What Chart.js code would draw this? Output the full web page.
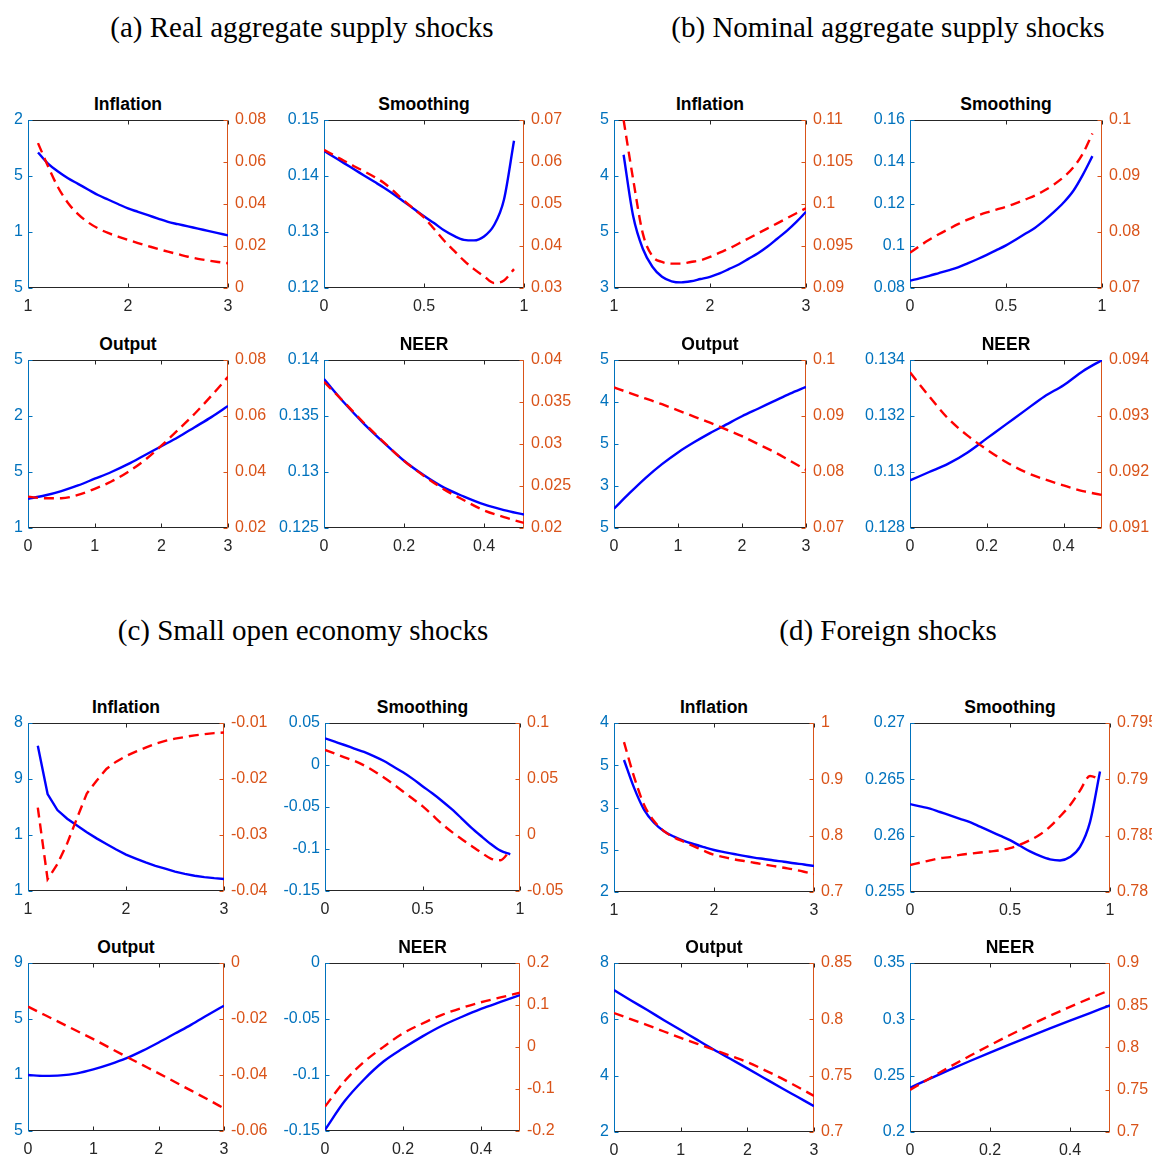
<!DOCTYPE html>
<html><head><meta charset="utf-8">
<script src="https://cdn.jsdelivr.net/npm/chart.js@4.4.1/dist/chart.umd.min.js"></script>
<style>
html,body{margin:0;padding:0;background:#fff;overflow:hidden;}
#page{position:relative;width:1152px;height:1155px;background:#fff;overflow:hidden;}
.sec{position:absolute;font-family:"Liberation Serif","Times New Roman",serif;font-size:29px;line-height:34px;text-align:center;color:#000;white-space:nowrap;}
.ttl{position:absolute;font-family:"Liberation Sans",Arial,sans-serif;font-weight:bold;font-size:17.5px;line-height:20px;text-align:center;color:#000;white-space:nowrap;}
.pnl{position:absolute;}
</style></head><body><div id="page"></div>
<script>
// ---------------- DATA ----------------
const sectionTitles = ['(a) Real aggregate supply shocks','(b) Nominal aggregate supply shocks','(c) Small open economy shocks','(d) Foreign shocks'];
const panelTitles = ['Inflation','Smoothing','Output','NEER'];

// x sample grids
const xInfl   = [1.1,1.2,1.3,1.4,1.5,1.6,1.7,1.8,1.9,2.0,2.1,2.2,2.3,2.4,2.5,2.6,2.7,2.8,2.9,3.0];
const xSmooth = [0,0.05,0.1,0.15,0.2,0.25,0.3,0.35,0.4,0.45,0.5,0.55,0.6,0.65,0.7,0.75,0.8,0.85,0.9,0.95];
const xOut    = [0,0.25,0.5,0.75,1,1.25,1.5,1.75,2,2.25,2.5,2.75,3];
const xNeer   = [0,0.05,0.1,0.15,0.2,0.25,0.3,0.35,0.4,0.45,0.5];

// x tick sets
const xTicks_1to3 = [1,2,3];        const xLabels_1to3 = ['1','2','3'];
const xTicks_0to1 = [0,0.5,1];      const xLabels_0to1 = ['0','0.5','1'];
const xTicks_0to3 = [0,1,2,3];      const xLabels_0to3 = ['0','1','2','3'];
const xTicks_neer = [0,0.2,0.4];    const xLabels_neer = ['0','0.2','0.4'];
const xRange_1to3 = [1,3]; const xRange_0to1 = [0,1]; const xRange_0to3 = [0,3]; const xRange_neer = [0,0.5];

// (a) Real aggregate supply shocks
const a1_blue = [0.0171,0.0161,0.0154,0.0148,0.0143,0.0138,0.0133,0.0129,0.0125,0.0121,0.0118,0.0115,0.0112,0.0109,0.0107,0.0105,0.0103,0.0101,0.0099,0.0097];
const a1_red  = [0.0690,0.0580,0.0480,0.0405,0.0352,0.0313,0.0284,0.0262,0.0245,0.0229,0.0214,0.0200,0.0186,0.0173,0.0161,0.0149,0.0139,0.0131,0.0124,0.0118];
const a1_lTicks = [0.005,0.01,0.015,0.02]; const a1_lLabels = ['5','1','5','2'];
const a1_rTicks = [0,0.02,0.04,0.06,0.08]; const a1_rLabels = ['0','0.02','0.04','0.06','0.08'];

const a2_blue = [0.1445,0.1434,0.1423,0.1412,0.1401,0.1390,0.1379,0.1367,0.1354,0.1341,0.1328,0.1316,0.1303,0.1293,0.1286,0.1285,0.1292,0.1312,0.1358,0.1463];
const a2_red  = [0.0629,0.0616,0.0603,0.0590,0.0578,0.0565,0.0550,0.0530,0.0508,0.0488,0.0468,0.0441,0.0413,0.0389,0.0365,0.0345,0.0328,0.0312,0.0318,0.0345];
const a2_lTicks = [0.12,0.13,0.14,0.15]; const a2_lLabels = ['0.12','0.13','0.14','0.15'];
const a2_rTicks = [0.03,0.04,0.05,0.06,0.07]; const a2_rLabels = ['0.03','0.04','0.05','0.06','0.07'];

const a3_blue = [0.0126,0.0129,0.0133,0.0138,0.0144,0.0150,0.0157,0.0165,0.0173,0.0181,0.0190,0.0199,0.0209];
const a3_red  = [0.0312,0.0306,0.0306,0.0318,0.0340,0.0366,0.0400,0.0442,0.0494,0.0550,0.0608,0.0672,0.0740];
const a3_lTicks = [0.01,0.015,0.02,0.025]; const a3_lLabels = ['1','5','2','5'];
const a3_rTicks = [0.02,0.04,0.06,0.08]; const a3_rLabels = ['0.02','0.04','0.06','0.08'];

const a4_blue = [0.1383,0.1362,0.1343,0.1326,0.1310,0.1297,0.1286,0.1278,0.1271,0.1266,0.1262];
const a4_red  = [0.0374,0.0350,0.0325,0.0302,0.0280,0.0262,0.0246,0.0233,0.0221,0.0213,0.0206];
const a4_lTicks = [0.125,0.13,0.135,0.14]; const a4_lLabels = ['0.125','0.13','0.135','0.14'];
const a4_rTicks = [0.02,0.025,0.03,0.035,0.04]; const a4_rLabels = ['0.02','0.025','0.03','0.035','0.04'];

// (b) Nominal aggregate supply shocks
const b1_blue = [0.0419,0.0364,0.0335,0.0319,0.0310,0.0306,0.0305,0.0306,0.0308,0.0310,0.0313,0.0317,0.0321,0.0326,0.0331,0.0337,0.0344,0.0351,0.0359,0.0368];
const b1_red  = [0.1100,0.1029,0.0965,0.0938,0.0931,0.0929,0.0929,0.0931,0.0933,0.0937,0.0942,0.0947,0.0953,0.0959,0.0965,0.0971,0.0977,0.0983,0.0989,0.0995];
const b1_lTicks = [0.03,0.035,0.04,0.045]; const b1_lLabels = ['3','5','4','5'];
const b1_rTicks = [0.09,0.095,0.1,0.105,0.11]; const b1_rLabels = ['0.09','0.095','0.1','0.105','0.11'];

const b2_blue = [0.0835,0.0846,0.0858,0.0871,0.0884,0.0898,0.0917,0.0937,0.0958,0.0980,0.1003,0.1030,0.1058,0.1086,0.1122,0.1162,0.1207,0.1262,0.1339,0.1428];
const b2_red  = [0.0763,0.0775,0.0786,0.0796,0.0805,0.0814,0.0822,0.0829,0.0835,0.0840,0.0845,0.0851,0.0858,0.0865,0.0874,0.0885,0.0898,0.0915,0.0940,0.0976];
const b2_lTicks = [0.08,0.1,0.12,0.14,0.16]; const b2_lLabels = ['0.08','0.1','0.12','0.14','0.16'];
const b2_rTicks = [0.07,0.08,0.09,0.1]; const b2_rLabels = ['0.07','0.08','0.09','0.1'];

const b3_blue = [0.0273,0.0292,0.0310,0.0326,0.0340,0.0352,0.0363,0.0373,0.0383,0.0392,0.0401,0.0410,0.0418];
const b3_red  = [0.0951,0.0941,0.0931,0.0921,0.0910,0.0899,0.0888,0.0876,0.0864,0.0850,0.0836,0.0820,0.0804];
const b3_lTicks = [0.025,0.03,0.035,0.04,0.045]; const b3_lLabels = ['5','3','5','4','5'];
const b3_rTicks = [0.07,0.08,0.09,0.1]; const b3_rLabels = ['0.07','0.08','0.09','0.1'];

const b4_blue = [0.1297,0.1300,0.1303,0.1307,0.1312,0.1317,0.1322,0.1327,0.1331,0.1336,0.1340];
const b4_red  = [0.09378,0.09335,0.09295,0.09265,0.09240,0.09218,0.09200,0.09187,0.09176,0.09166,0.09159];
const b4_lTicks = [0.128,0.13,0.132,0.134]; const b4_lLabels = ['0.128','0.13','0.132','0.134'];
const b4_rTicks = [0.091,0.092,0.093,0.094]; const b4_rLabels = ['0.091','0.092','0.093','0.094'];

// (c) Small open economy shocks
const c1_blue = [2.595,1.732,1.446,1.29,1.17,1.05,0.94,0.84,0.74,0.65,0.58,0.51,0.45,0.40,0.345,0.305,0.272,0.248,0.229,0.214];
const c1_red  = [-0.0251,-0.0379,-0.0352,-0.0315,-0.0270,-0.0226,-0.0203,-0.0182,-0.0169,-0.0159,-0.0151,-0.0144,-0.0137,-0.0132,-0.0128,-0.0125,-0.0122,-0.0120,-0.0118,-0.0117];
const c1_lTicks = [0,1,2,3]; const c1_lLabels = ['1','1','9','8'];
const c1_rTicks = [-0.04,-0.03,-0.02,-0.01]; const c1_rLabels = ['-0.04','-0.03','-0.02','-0.01'];

const c2_blue = [0.0318,0.0278,0.0238,0.0196,0.0155,0.0106,0.0050,-0.0018,-0.0087,-0.0165,-0.0252,-0.0337,-0.0428,-0.0526,-0.0634,-0.0745,-0.0845,-0.0940,-0.1020,-0.1063];
const c2_red  = [0.0759,0.0727,0.0694,0.0662,0.0622,0.0572,0.0515,0.0454,0.0389,0.0324,0.0258,0.0179,0.0099,0.0028,-0.0035,-0.0095,-0.0155,-0.0210,-0.0225,-0.0134];
const c2_lTicks = [-0.15,-0.1,-0.05,0,0.05]; const c2_lLabels = ['-0.15','-0.1','-0.05','0','0.05'];
const c2_rTicks = [-0.05,0,0.05,0.1]; const c2_rLabels = ['-0.05','0','0.05','0.1'];

const c3_blue = [1.0,0.985,0.993,1.03,1.10,1.19,1.295,1.43,1.58,1.74,1.90,2.07,2.238];
const c3_red  = [-0.0156,-0.0185,-0.0214,-0.0243,-0.0272,-0.0303,-0.0334,-0.0364,-0.0394,-0.0425,-0.0456,-0.0487,-0.0519];
const c3_lTicks = [0,1,2,3]; const c3_lLabels = ['5','1','5','9'];
const c3_rTicks = [-0.06,-0.04,-0.02,0]; const c3_rLabels = ['-0.06','-0.04','-0.02','0'];

const c4_blue = [-0.149,-0.1235,-0.1040,-0.0880,-0.0762,-0.0655,-0.0560,-0.0482,-0.0410,-0.0347,-0.0286];
const c4_red  = [-0.142,-0.0815,-0.0355,0.0003,0.0325,0.0560,0.0766,0.0928,0.1065,0.1180,0.1293];
const c4_lTicks = [-0.15,-0.1,-0.05,0]; const c4_lLabels = ['-0.15','-0.1','-0.05','0'];
const c4_rTicks = [-0.2,-0.1,0,0.1,0.2]; const c4_rLabels = ['-0.2','-0.1','0','0.1','0.2'];

// (d) Foreign shocks
const d1_blue = [3.124,2.47,1.95,1.64,1.44,1.31,1.21,1.13,1.06,0.994,0.945,0.90,0.855,0.815,0.78,0.745,0.715,0.68,0.65,0.615];
const d1_red  = [0.966,0.905,0.855,0.826,0.808,0.797,0.789,0.781,0.773,0.766,0.762,0.758,0.755,0.752,0.749,0.746,0.743,0.740,0.736,0.732];
const d1_lTicks = [0,1,2,3,4]; const d1_lLabels = ['2','5','3','5','4'];
const d1_rTicks = [0.7,0.8,0.9,1]; const d1_rLabels = ['0.7','0.8','0.9','1'];

const d2_blue = [0.2628,0.2626,0.2624,0.2621,0.2618,0.2615,0.2612,0.2608,0.2604,0.2600,0.2596,0.2591,0.2586,0.2582,0.2579,0.2578,0.2581,0.2590,0.2612,0.2657];
const d2_red  = [0.7824,0.7826,0.7828,0.7830,0.7831,0.7833,0.7834,0.7835,0.7836,0.7837,0.7839,0.7842,0.7846,0.7851,0.7858,0.7867,0.7877,0.7890,0.7903,0.7900];
const d2_lTicks = [0.255,0.26,0.265,0.27]; const d2_lLabels = ['0.255','0.26','0.265','0.27'];
const d2_rTicks = [0.78,0.785,0.79,0.795]; const d2_rLabels = ['0.78','0.785','0.79','0.795'];

const d3_blue = [7.04,6.68,6.33,5.97,5.62,5.27,4.92,4.59,4.26,3.92,3.58,3.25,2.92];
const d3_red  = [0.8056,0.8002,0.7948,0.7892,0.7836,0.7783,0.7730,0.7675,0.7620,0.7552,0.7480,0.7402,0.7320];
const d3_lTicks = [2,4,6,8]; const d3_lLabels = ['2','4','6','8'];
const d3_rTicks = [0.7,0.75,0.8,0.85]; const d3_rLabels = ['0.7','0.75','0.8','0.85'];

const d4_blue = [0.2393,0.2474,0.2553,0.2630,0.2705,0.2778,0.2849,0.2919,0.2988,0.3056,0.3124];
const d4_red  = [0.7497,0.7637,0.7772,0.7902,0.8027,0.8148,0.8264,0.8375,0.8481,0.8583,0.8680];
const d4_lTicks = [0.2,0.25,0.3,0.35]; const d4_lLabels = ['0.2','0.25','0.3','0.35'];
const d4_rTicks = [0.7,0.75,0.8,0.85,0.9]; const d4_rLabels = ['0.7','0.75','0.8','0.85','0.9'];

// ---------------- LAYOUT ----------------
const BLUE_AX = '#0072BD', ORANGE_AX = '#D95319', DARK = '#262626';
const LINE_BLUE = '#0000FF', LINE_RED = '#FF0000';
const LW = 70, RW = 70, TH = 20, BH = 34, TICKLEN = 4;
Chart.defaults.font.family = '"Liberation Sans", Arial, Helvetica, sans-serif';
Chart.defaults.font.size = 16;

const sectionPos = [[302,10],[888,10],[303,613],[888,613]];

const panels = [
  {t:0, rect:[28,120,228,288],  x:xInfl,   xt:xTicks_1to3, xl:xLabels_1to3, xr:xRange_1to3, blue:a1_blue, red:a1_red, lt:a1_lTicks, ll:a1_lLabels, rt:a1_rTicks, rl:a1_rLabels},
  {t:1, rect:[324,120,524,288], x:xSmooth, xt:xTicks_0to1, xl:xLabels_0to1, xr:xRange_0to1, blue:a2_blue, red:a2_red, lt:a2_lTicks, ll:a2_lLabels, rt:a2_rTicks, rl:a2_rLabels},
  {t:2, rect:[28,360,228,528],  x:xOut,    xt:xTicks_0to3, xl:xLabels_0to3, xr:xRange_0to3, blue:a3_blue, red:a3_red, lt:a3_lTicks, ll:a3_lLabels, rt:a3_rTicks, rl:a3_rLabels},
  {t:3, rect:[324,360,524,528], x:xNeer,   xt:xTicks_neer, xl:xLabels_neer, xr:xRange_neer, blue:a4_blue, red:a4_red, lt:a4_lTicks, ll:a4_lLabels, rt:a4_rTicks, rl:a4_rLabels},
  {t:0, rect:[614,120,806,288], x:xInfl,   xt:xTicks_1to3, xl:xLabels_1to3, xr:xRange_1to3, blue:b1_blue, red:b1_red, lt:b1_lTicks, ll:b1_lLabels, rt:b1_rTicks, rl:b1_rLabels},
  {t:1, rect:[910,120,1102,288],x:xSmooth, xt:xTicks_0to1, xl:xLabels_0to1, xr:xRange_0to1, blue:b2_blue, red:b2_red, lt:b2_lTicks, ll:b2_lLabels, rt:b2_rTicks, rl:b2_rLabels},
  {t:2, rect:[614,360,806,528], x:xOut,    xt:xTicks_0to3, xl:xLabels_0to3, xr:xRange_0to3, blue:b3_blue, red:b3_red, lt:b3_lTicks, ll:b3_lLabels, rt:b3_rTicks, rl:b3_rLabels},
  {t:3, rect:[910,360,1102,528],x:xNeer,   xt:xTicks_neer, xl:xLabels_neer, xr:xRange_neer, blue:b4_blue, red:b4_red, lt:b4_lTicks, ll:b4_lLabels, rt:b4_rTicks, rl:b4_rLabels},
  {t:0, rect:[28,723,224,891],  x:xInfl,   xt:xTicks_1to3, xl:xLabels_1to3, xr:xRange_1to3, blue:c1_blue, red:c1_red, lt:c1_lTicks, ll:c1_lLabels, rt:c1_rTicks, rl:c1_rLabels, straight:true},
  {t:1, rect:[325,723,520,891], x:xSmooth, xt:xTicks_0to1, xl:xLabels_0to1, xr:xRange_0to1, blue:c2_blue, red:c2_red, lt:c2_lTicks, ll:c2_lLabels, rt:c2_rTicks, rl:c2_rLabels},
  {t:2, rect:[28,963,224,1131], x:xOut,    xt:xTicks_0to3, xl:xLabels_0to3, xr:xRange_0to3, blue:c3_blue, red:c3_red, lt:c3_lTicks, ll:c3_lLabels, rt:c3_rTicks, rl:c3_rLabels},
  {t:3, rect:[325,963,520,1131],x:xNeer,   xt:xTicks_neer, xl:xLabels_neer, xr:xRange_neer, blue:c4_blue, red:c4_red, lt:c4_lTicks, ll:c4_lLabels, rt:c4_rTicks, rl:c4_rLabels},
  {t:0, rect:[614,723,814,892], x:xInfl,   xt:xTicks_1to3, xl:xLabels_1to3, xr:xRange_1to3, blue:d1_blue, red:d1_red, lt:d1_lTicks, ll:d1_lLabels, rt:d1_rTicks, rl:d1_rLabels},
  {t:1, rect:[910,723,1110,892],x:xSmooth, xt:xTicks_0to1, xl:xLabels_0to1, xr:xRange_0to1, blue:d2_blue, red:d2_red, lt:d2_lTicks, ll:d2_lLabels, rt:d2_rTicks, rl:d2_rLabels},
  {t:2, rect:[614,963,814,1132],x:xOut,    xt:xTicks_0to3, xl:xLabels_0to3, xr:xRange_0to3, blue:d3_blue, red:d3_red, lt:d3_lTicks, ll:d3_lLabels, rt:d3_rTicks, rl:d3_rLabels},
  {t:3, rect:[910,963,1110,1132],x:xNeer,  xt:xTicks_neer, xl:xLabels_neer, xr:xRange_neer, blue:d4_blue, red:d4_red, lt:d4_lTicks, ll:d4_lLabels, rt:d4_rTicks, rl:d4_rLabels}
];

// ---------------- RENDER ----------------
const page = document.getElementById('page');
sectionTitles.forEach((s,i)=>{
  const d = document.createElement('div');
  d.className = 'sec'; d.textContent = s;
  d.style.left = (sectionPos[i][0]-300)+'px'; d.style.width = '600px'; d.style.top = sectionPos[i][1]+'px';
  page.appendChild(d);
});

const framePlugin = {
  id: 'frame',
  beforeDatasetsDraw(chart) {
    const {ctx, chartArea:a, scales:s} = chart;
    const L = Math.round(a.left)+0.5, R = Math.round(a.right)-0.5, T = Math.round(a.top)+0.5, B = Math.round(a.bottom)-0.5;
    ctx.save();
    ctx.lineWidth = 1;
    const seg = (x1,y1,x2,y2,c)=>{ctx.strokeStyle=c;ctx.beginPath();ctx.moveTo(x1,y1);ctx.lineTo(x2,y2);ctx.stroke();};
    seg(L,T,R,T,DARK); seg(L,B,R,B,DARK);
    s.x.ticks.forEach(t=>{const px=Math.round(s.x.getPixelForValue(t.value))+0.5; seg(px,B,px,B-TICKLEN,DARK); seg(px,T,px,T+TICKLEN,DARK);});
    s.y.ticks.forEach(t=>{const py=Math.round(s.y.getPixelForValue(t.value))+0.5; seg(L,py,L+TICKLEN,py,BLUE_AX);});
    s.y1.ticks.forEach(t=>{const py=Math.round(s.y1.getPixelForValue(t.value))+0.5; seg(R,py,R-TICKLEN,py,ORANGE_AX);});
    seg(L,T,L,B+0.5,BLUE_AX);
    seg(R,T,R,B+0.5,ORANGE_AX);
    ctx.restore();
  }
};

function pts(xs, ys){ return xs.map((x,i)=>({x:x, y:ys[i]})); }

panels.forEach(p=>{
  const [l,t,r,b] = p.rect;
  const title = document.createElement('div');
  title.className = 'ttl'; title.textContent = panelTitles[p.t];
  title.style.left = l+'px'; title.style.width = (r-l)+'px'; title.style.top = (t-26)+'px';
  page.appendChild(title);

  const wrap = document.createElement('div');
  wrap.className = 'pnl';
  const W = (r-l)+LW+RW, H = (b-t)+TH+BH;
  wrap.style.left = (l-LW)+'px'; wrap.style.top = (t-TH)+'px';
  wrap.style.width = W+'px'; wrap.style.height = H+'px';
  const cv = document.createElement('canvas');
  cv.width = W; cv.height = H; cv.style.width = W+'px'; cv.style.height = H+'px';
  wrap.appendChild(cv); page.appendChild(wrap);

  const interp = p.straight ? {tension:0} : {cubicInterpolationMode:'monotone'};
  const yAxis = (ticks, labels, pos, color) => ({
    type:'linear', position:pos, min:ticks[0], max:ticks[ticks.length-1],
    afterBuildTicks: sc => { sc.ticks = ticks.map(v=>({value:v})); },
    ticks:{autoSkip:false, padding: pos==='left' ? 5 : 7, color:color, font:{size:16}, callback:(v,i)=>labels[i]},
    grid:{display:false, drawTicks:false}, border:{display:false},
    afterFit: sc => { sc.width = pos==='left' ? LW : RW; }
  });

  new Chart(cv, {
    type:'line',
    data:{datasets:[
      Object.assign({data:pts(p.x,p.red), yAxisID:'y1', borderColor:LINE_RED, borderWidth:2.4, borderDash:[10,6], pointRadius:0, fill:false}, interp),
      Object.assign({data:pts(p.x,p.blue), yAxisID:'y', borderColor:LINE_BLUE, borderWidth:2.4, pointRadius:0, fill:false}, interp)
    ]},
    options:{
      responsive:false, animation:false, devicePixelRatio:1, events:[],
      layout:{padding:{top:TH,left:0,right:0,bottom:0}},
      plugins:{legend:{display:false}, tooltip:{enabled:false}, title:{display:false}},
      scales:{
        x:{type:'linear', position:'bottom', min:p.xr[0], max:p.xr[1],
           afterBuildTicks: sc => { sc.ticks = p.xt.map(v=>({value:v})); },
           ticks:{autoSkip:false, maxRotation:0, padding:9, color:DARK, font:{size:16}, callback:(v,i)=>p.xl[i]},
           grid:{display:false, drawTicks:false}, border:{display:false},
           afterFit: sc => { sc.height = BH; }},
        y: yAxis(p.lt, p.ll, 'left', BLUE_AX),
        y1: yAxis(p.rt, p.rl, 'right', ORANGE_AX)
      }
    },
    plugins:[framePlugin]
  });
});
</script>
</body></html>
